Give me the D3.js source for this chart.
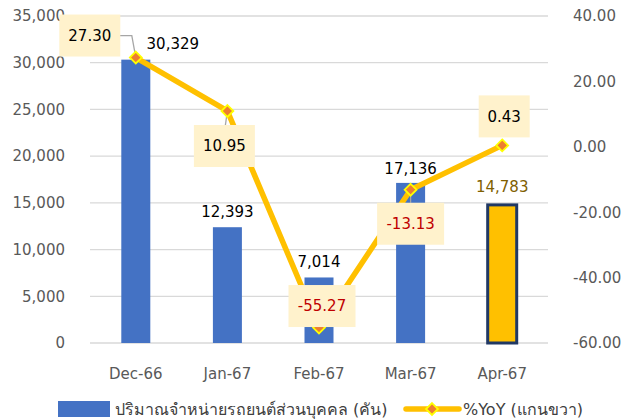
<!DOCTYPE html>
<html>
<head>
<meta charset="utf-8">
<title>Car sales</title>
<script src="https://cdn.jsdelivr.net/npm/d3@7"></script>
<style>
  body { margin: 0; background: #fff; }
  svg text { font-family: "DejaVu Sans", "Noto Sans", sans-serif; }
  .tick text { fill: #595959; font-size: 15px; }
</style>
</head>
<body>
<svg id="chart" width="622" height="419"></svg>
<script>
// data
var months = ["Dec-66", "Jan-67", "Feb-67", "Mar-67", "Apr-67"];
var units = [30329, 12393, 7014, 17136, 14783];
var yoy = [27.30, 10.95, -55.27, -13.13, 0.43];
var leftTicks = [0, 5000, 10000, 15000, 20000, 25000, 30000, 35000];
var rightTicks = [-60, -40, -20, 0, 20, 40];

// label placement (offsets from the point, px): box centre and bar-label baseline
var boxOffset = [[-46, -22], [-3, 35], [3, -21.5], [0, 34], [2, -29]];
var barLabelOffset = [[37, -10.5], [0, -10], [0, -10], [0, -9], [0, -13]];

var svg = d3.select("#chart");
var pL = 90, pR = 548, pT = 16, pB = 343;

// hyphen minus like the original
var f2 = function(d) { return d3.format(".2f")(d).replace("\u2212", "-"); };

var x = d3.scaleBand().domain(months).range([pL, pR]);
var y = d3.scaleLinear().domain([0, 35000]).range([pB, pT]);
var y2 = d3.scaleLinear().domain([-60, 40]).range([pB, pT]);

// gridlines
svg.append("g").selectAll("line")
    .data(leftTicks)
  .enter().append("line")
    .attr("x1", pL).attr("x2", pR)
    .attr("y1", function(d) { return y(d); })
    .attr("y2", function(d) { return y(d); })
    .attr("stroke", "#d9d9d9").attr("stroke-width", 1.3);

// axes
var yAxis = svg.append("g")
    .attr("transform", "translate(" + (pL - 22) + ",0)")
    .call(d3.axisLeft(y).tickValues(leftTicks).tickFormat(d3.format(",")).tickSize(0));
yAxis.select(".domain").remove();

var y2Axis = svg.append("g")
    .attr("transform", "translate(" + (pR + 22) + ",0)")
    .call(d3.axisRight(y2).tickValues(rightTicks).tickFormat(f2).tickSize(0));
y2Axis.select(".domain").remove();

var xAxis = svg.append("g")
    .attr("transform", "translate(0," + (pB + 22) + ")")
    .call(d3.axisBottom(x).tickSize(0));
xAxis.select(".domain").remove();
xAxis.selectAll(".tick text").attr("fill", "#404040").attr("font-size", "15px");

// bars
var bw = 29;
svg.append("g").selectAll("rect")
    .data(units)
  .enter().append("rect")
    .attr("x", function(d, i) { return x(months[i]) + x.bandwidth() / 2 - bw / 2; })
    .attr("y", function(d) { return y(d); })
    .attr("width", bw)
    .attr("height", function(d) { return pB - y(d); })
    .attr("fill", function(d, i) { return i === 4 ? "#FFC000" : "#4472C4"; })
    .attr("stroke", function(d, i) { return i === 4 ? "#203864" : "none"; })
    .attr("stroke-width", 3);

// bar labels
svg.append("g").selectAll("text")
    .data(units)
  .enter().append("text")
    .attr("x", function(d, i) { return x(months[i]) + x.bandwidth() / 2 + barLabelOffset[i][0]; })
    .attr("y", function(d, i) { return y(d) + barLabelOffset[i][1]; })
    .attr("text-anchor", "middle")
    .attr("font-size", "15px")
    .attr("fill", function(d, i) { return i === 4 ? "#7F6000" : "#000"; })
    .text(function(d) { return d3.format(",")(d); });

// yoy line
var cx = function(i) { return x(months[i]) + x.bandwidth() / 2; };
var line = d3.line()
    .x(function(d, i) { return cx(i); })
    .y(function(d) { return y2(d); });

// leader lines
var leaders = svg.append("g");
leaders.append("polyline")
    .attr("points", [[cx(0) - 16, y2(yoy[0]) - 22], [cx(0) - 4, y2(yoy[0]) - 22], [cx(0), y2(yoy[0])]].join(" "))
    .attr("fill", "none").attr("stroke", "#a6a6a6").attr("stroke-width", 1.3);
leaders.append("line")
    .attr("x1", cx(1)).attr("y1", y2(yoy[1]))
    .attr("x2", cx(1) - 2).attr("y2", y2(yoy[1]) + 14)
    .attr("stroke", "#a6a6a6").attr("stroke-width", 1.3);
leaders.append("line")
    .attr("x1", cx(3)).attr("y1", y2(yoy[3]))
    .attr("x2", cx(3)).attr("y2", y2(yoy[3]) + 13)
    .attr("stroke", "#a6a6a6").attr("stroke-width", 1.3);

svg.append("path")
    .datum(yoy)
    .attr("d", line)
    .attr("fill", "none")
    .attr("stroke", "#FFC000")
    .attr("stroke-width", 5.5)
    .attr("stroke-linejoin", "round");

// markers
svg.append("g").selectAll("path")
    .data(yoy)
  .enter().append("path")
    .attr("d", d3.symbol().type(d3.symbolDiamond2).size(90))
    .attr("transform", function(d, i) { return "translate(" + cx(i) + "," + y2(d) + ")"; })
    .attr("fill", "#ED7D31")
    .attr("stroke", "#FFFF00")
    .attr("stroke-width", 1.8);

// yoy labels with boxes
var lbl = svg.append("g").selectAll("g")
    .data(yoy)
  .enter().append("g")
    .attr("transform", function(d, i) {
      return "translate(" + (cx(i) + boxOffset[i][0]) + "," + (y2(d) + boxOffset[i][1]) + ")";
    });
lbl.append("rect")
    .attr("x", function(d) { return d < 0 ? -33.5 : (Math.abs(d) < 10 ? -25.5 : -30.5); })
    .attr("width", function(d) { return d < 0 ? 67 : (Math.abs(d) < 10 ? 51 : 61); })
    .attr("y", -21).attr("height", 42)
    .attr("fill", "#FFF2CC");
lbl.append("text")
    .attr("text-anchor", "middle")
    .attr("dy", "0.35em")
    .attr("font-size", "15px")
    .attr("fill", function(d) { return d < 0 ? "#C00000" : "#000"; })
    .text(f2);

// legend
var lg = svg.append("g").attr("transform", "translate(0,409)");
lg.append("rect").attr("x", 58).attr("y", -8).attr("width", 52).attr("height", 16).attr("fill", "#4472C4");
lg.append("text").attr("x", 115).attr("dy", "0.35em").attr("font-size", "16px").attr("fill", "#404040")
    .text("ปริมาณจำหน่ายรถยนต์ส่วนบุคคล (คัน)");
lg.append("line").attr("x1", 406).attr("x2", 459).attr("stroke", "#FFC000").attr("stroke-width", 5.5).attr("stroke-linecap", "round");
lg.append("path").attr("d", d3.symbol().type(d3.symbolDiamond2).size(90))
    .attr("transform", "translate(432,0)")
    .attr("fill", "#ED7D31").attr("stroke", "#FFFF00").attr("stroke-width", 1.8);
lg.append("text").attr("x", 463).attr("dy", "0.35em").attr("font-size", "16px").attr("fill", "#404040")
    .text("%YoY (แกนขวา)");
</script>
</body>
</html>
